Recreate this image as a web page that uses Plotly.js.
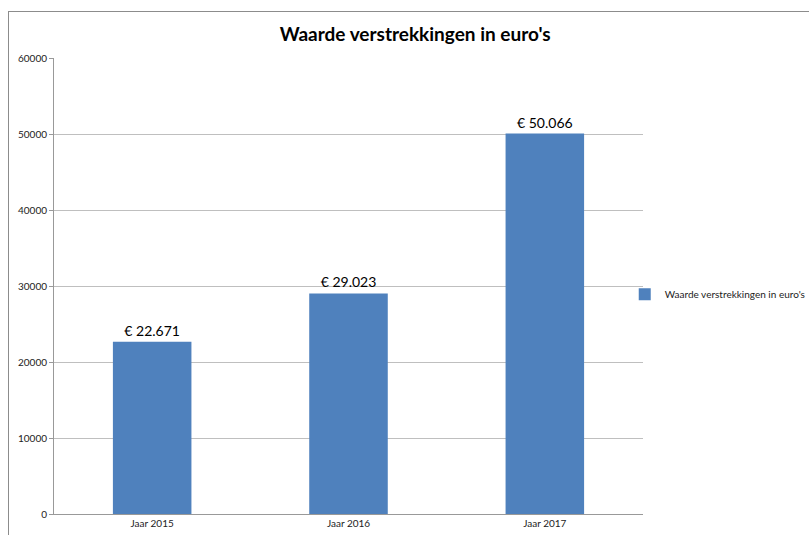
<!DOCTYPE html>
<html><head><meta charset="utf-8">
<script src="https://cdn.plot.ly/plotly-3.0.1.min.js"></script>
<style>
body{margin:0;background:#fff;overflow:hidden;}
#frame{position:absolute;left:8px;top:11px;width:801px;height:524px;border-top:1px solid #8c8c8c;border-left:1px solid #8c8c8c;}
#chart{width:801px;height:524px;}
</style></head>
<body><div id="frame"><div id="chart"></div></div>
<script>
var categories = ["Jaar 2015", "Jaar 2016", "Jaar 2017"];
var values = [22671, 29023, 50066];
var seriesName = "Waarde verstrekkingen in euro's";
var yTicks = [0, 10000, 20000, 30000, 40000, 50000, 60000];

var trace = {
  type: 'bar', x: categories, y: values, name: seriesName,
  marker: {color: '#4f81bd'},
  texttemplate: '€ %{y:,.0f}', textposition: 'outside', cliponaxis: false,
  textfont: {family: 'Lato, "Open Sans", sans-serif', size: 14, color: '#000'},
  showlegend: true
};
var layout = {
  width: 801, height: 524,
  separators: ',.',
  margin: {l: 45, r: 167, t: 46, b: 22, autoexpand: false},
  paper_bgcolor: '#fff', plot_bgcolor: '#fff',
  font: {family: 'Lato, "Open Sans", sans-serif', color: '#222'},
  title: {text: '<b>' + seriesName + '</b>', xref: 'container', x: 0.507, yref: 'container', y: 0.958, yanchor: 'middle', xanchor: 'center',
    font: {size: 19, color: '#000', family: 'Lato, sans-serif'}},
  bargap: 0.6,
  xaxis: {showline: true, linecolor: '#999', linewidth: 1, ticks: '', tickfont: {size: 10, color: '#222'}, fixedrange: true},
  yaxis: {range: [0, 60000], tickvals: yTicks, tickformat: 'd', showgrid: true, gridcolor: '#bfbfbf', gridwidth: 1,
    showline: true, linecolor: '#999', ticks: 'outside', ticklen: 4, tickcolor: '#999', zeroline: false,
    tickfont: {size: 10, color: '#222'}},
  showlegend: true,
  legend: {x: 0.969, xanchor: 'left', y: 0.482, yanchor: 'middle', bgcolor: 'rgba(0,0,0,0)', font: {size: 10, color: '#222'}, itemwidth: 30}
};
Plotly.newPlot('chart', [trace], layout, {staticPlot: true});
</script></body></html>
